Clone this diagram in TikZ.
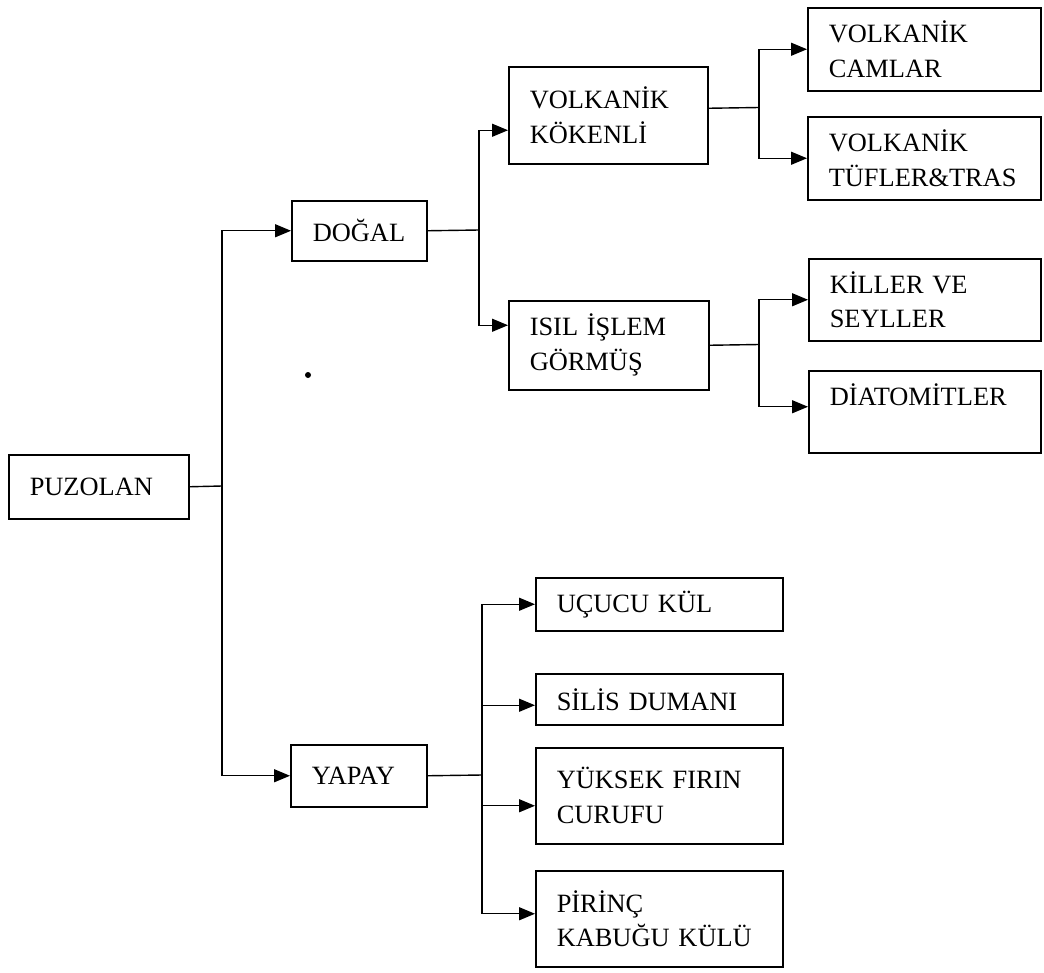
\documentclass[tikz,border=0pt]{standalone}
\usepackage{fontspec}
\setmainfont{Liberation Serif}
\usetikzlibrary{arrows.meta}

\tikzset{
  kutu/.style={draw, line width=1.5bp, inner xsep=21bp, inner ysep=0pt,
    align=left, anchor=north west, font=\fontsize{26.5}{35}\selectfont},
  hat/.style={line width=1.4bp},
  ok/.style={hat, -{Triangle[length=16bp,width=13bp]}},
}

\begin{document}
\begin{tikzpicture}[x=1bp,y=-1bp]
\useasboundingbox (0,0) rectangle (1044,973);

% kutular
\node[kutu, text width=138bp, minimum height=64bp] (puzolan) at (8,454) {PUZOLAN};
\node[kutu, text width=93bp, minimum height=60bp] (dogal) at (291,200) {DOĞAL};
\node[kutu, text width=94bp, minimum height=62bp] (yapay) at (290,744) {YAPAY};
\node[kutu, text width=157bp, minimum height=97bp] (volkkoken) at (508,66) {VOLKANİK\\KÖKENLİ};
\node[kutu, text width=158bp, minimum height=89bp] (isil) at (508,300) {ISIL İŞLEM\\GÖRMÜŞ};

\node[kutu, text width=191bp, minimum height=83bp] (camlar) at (807,7) {VOLKANİK\\CAMLAR};
\node[kutu, text width=191bp, minimum height=83bp] (tufler) at (807,116) {VOLKANİK\\TÜFLER\&TRAS};
\node[kutu, text width=190bp, minimum height=82bp] (killer) at (808,258) {KİLLER VE\\SEYLLER};
\node[kutu, text width=190bp, minimum height=82bp] (diatomit) at (808,370) {DİATOMİTLER\\\mbox{}};

\node[kutu, text width=205bp, minimum height=53bp] (ucucu) at (535,577) {UÇUCU KÜL};
\node[kutu, text width=205bp, minimum height=51bp] (silis) at (535,673) {SİLİS DUMANI};
\node[kutu, text width=205bp, minimum height=96bp] (curuf) at (535,747) {YÜKSEK FIRIN\\CURUFU};
\node[kutu, text width=205bp, minimum height=96bp] (pirinc) at (535,870) {PİRİNÇ\\KABUĞU KÜLÜ};

% dallanma noktalari
\coordinate (b1) at (222,486);
\coordinate (b2) at (479,230);
\coordinate (b3) at (759,107.5);
\coordinate (b4) at (759,344.5);
\coordinate (b5) at (482,775);

\draw[hat] (puzolan.east) -- (b1);
\draw[ok] (b1) |- (dogal.west);
\draw[ok] (b1) |- (yapay.west);

\draw[hat] (dogal.east) -- (b2);
\draw[ok] (b2) |- ([yshift=-15bp]volkkoken.west);
\draw[ok] (b2) |- ([yshift=20bp]isil.west);

\draw[hat] ([yshift=7bp]volkkoken.east) -- (b3);
\draw[ok] (b3) |- (camlar.west);
\draw[ok] (b3) |- (tufler.west);

\draw[hat] (isil.east) -- (b4);
\draw[ok] (b4) |- (killer.west);
\draw[ok] (b4) |- ([yshift=5bp]diatomit.west);

\draw[hat] (yapay.east) -- (b5);
\draw[ok] (b5) |- (ucucu.west);
\draw[ok] (b5) |- ([yshift=-6bp]silis.west);
\draw[ok] (b5) |- ([yshift=-10bp]curuf.west);
\draw[ok] (b5) |- ([yshift=5bp]pirinc.west);

\fill (308,375) circle (3bp);
\end{tikzpicture}
\end{document}
